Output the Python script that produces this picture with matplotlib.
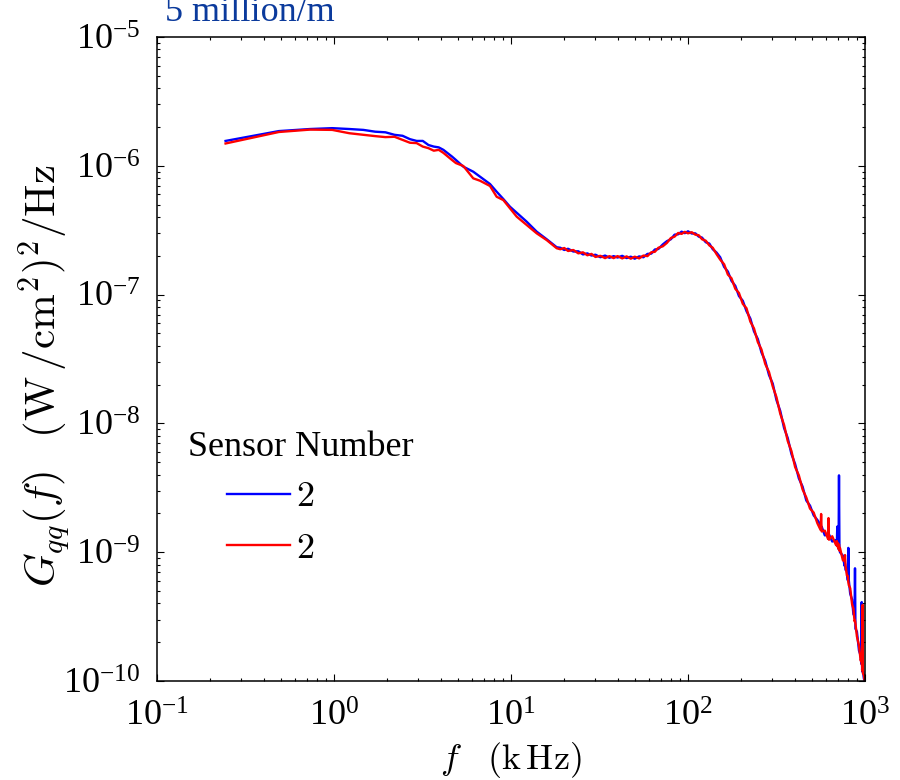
import matplotlib
matplotlib.use("Agg")
import matplotlib.pyplot as plt
from matplotlib.ticker import LogLocator, NullFormatter

plt.rcParams.update({
    "font.family": ["Liberation Serif", "DejaVu Serif"],
    "mathtext.fontset": "custom",
    "mathtext.rm": "Liberation Serif",
    "mathtext.it": "Liberation Serif:italic",
    "mathtext.bf": "Liberation Serif:bold",
    "axes.unicode_minus": True,
})

# Frequency bins (kHz) shared by both sensors
freq_khz = [
    0.244, 0.488, 0.732, 0.977, 1.221, 1.465, 1.709, 1.953, 2.197, 2.441,
    2.686, 2.930, 3.174, 3.418, 3.662, 3.906, 4.150, 4.395, 4.639, 4.883,
    5.38, 6.12, 6.68, 7.61, 8.30, 9.05, 9.87, 10.77, 12.27, 13.97, 15.91, 18.13,
    19, 20, 21, 22.5, 24, 25.5, 27, 28.5, 30, 32, 34, 36, 38, 40, 42.5, 45, 47.5,
    50, 53, 56, 59, 62, 65, 68, 72,
    76, 80, 84, 88, 92, 96, 100, 105, 110, 115, 120, 126, 132, 138, 145,
    152, 160, 168, 176, 185, 194, 204, 214, 225, 236, 248, 260, 273, 287, 301,
    316, 332, 349, 366, 384, 403, 423, 444, 466, 489, 513, 538,
    561, 565, 569, 593, 618, 622, 626, 653, 685, 693, 697, 701, 709,
    713, 717, 722, 750, 766, 771, 776, 790, 800, 805, 810, 825, 845, 860, 873,
    878, 883, 900, 925, 945, 953, 958, 963, 966, 970, 974, 985, 1000,
]

# Heat-flux PSD, sensor 2 (blue trace), (W/cm^2)^2/Hz
gqq_blue = [
    1.56e-6, 1.86e-6, 1.93e-6, 1.96e-6, 1.93e-6, 1.90e-6, 1.84e-6, 1.82e-6, 1.74e-6, 1.71e-6,
    1.61e-6, 1.56e-6, 1.56e-6, 1.45e-6, 1.41e-6, 1.39e-6, 1.33e-6, 1.25e-6, 1.18e-6, 1.11e-6,
    9.84e-7, 9.00e-7, 8.23e-7, 7.22e-7, 6.29e-7, 5.52e-7, 4.81e-7, 4.32e-7, 3.68e-7, 3.08e-7, 2.69e-7, 2.33e-7,
    2.31e-7, 2.22e-7, 2.27e-7, 2.16e-7, 2.17e-7, 2.05e-7, 2.09e-7, 2.01e-7, 2.04e-7, 1.95e-7,
    2.01e-7, 1.93e-7, 1.99e-7, 1.94e-7, 2.00e-7, 1.92e-7, 1.97e-7,
    1.90e-7, 1.98e-7, 1.95e-7, 2.07e-7, 2.08e-7, 2.24e-7, 2.26e-7, 2.45e-7,
    2.60e-7, 2.69e-7, 2.92e-7, 2.94e-7, 3.08e-7, 3.00e-7, 3.10e-7, 2.98e-7, 2.99e-7, 2.82e-7,
    2.77e-7, 2.55e-7, 2.49e-7, 2.25e-7, 2.12e-7,
    1.95e-7, 1.64e-7, 1.51e-7, 1.28e-7, 1.17e-7, 9.75e-8, 8.95e-8, 7.44e-8, 6.52e-8, 5.18e-8,
    4.52e-8, 3.56e-8, 3.06e-8, 2.37e-8, 2.04e-8,
    1.52e-8, 1.25e-8, 9.20e-9, 7.70e-9, 5.79e-9, 4.83e-9, 3.74e-9, 3.23e-9, 2.52e-9, 2.30e-9,
    1.93e-9, 1.78e-9,
    1.63e-9, 1.50e-9, 1.58e-9, 1.35e-9, 1.39e-9, 1.27e-9, 1.37e-9, 1.21e-9, 1.24e-9, 1.12e-9,
    1.58e-9, 1.19e-9, 1.06e-9,
    3.95e-9, 1.12e-9, 1.00e-9, 9.40e-10, 7.85e-10, 8.15e-10, 7.30e-10, 7.20e-10, 6.05e-10,
    1.08e-9, 6.05e-10, 4.75e-10, 4.30e-10, 3.30e-10, 3.20e-10,
    7.50e-10, 2.55e-10, 2.42e-10, 1.72e-10, 1.58e-10, 1.36e-10, 4.10e-10, 1.22e-10, 1.30e-10,
    1.17e-10, 1.20e-10, 1.05e-10, 9.70e-11,
]

# Heat-flux PSD, sensor 2 (red trace), (W/cm^2)^2/Hz
gqq_red = [
    1.49e-6, 1.83e-6, 1.91e-6, 1.90e-6, 1.79e-6, 1.74e-6, 1.70e-6, 1.67e-6, 1.68e-6, 1.59e-6,
    1.51e-6, 1.50e-6, 1.41e-6, 1.37e-6, 1.31e-6, 1.33e-6, 1.26e-6, 1.18e-6, 1.11e-6, 1.05e-6,
    9.96e-7, 7.99e-7, 7.66e-7, 6.97e-7, 5.75e-7, 5.42e-7, 4.68e-7, 4.03e-7, 3.47e-7, 2.99e-7, 2.65e-7, 2.29e-7,
    2.25e-7, 2.30e-7, 2.18e-7, 2.22e-7, 2.09e-7, 2.13e-7, 2.02e-7, 2.07e-7, 1.96e-7, 2.00e-7,
    1.92e-7, 1.99e-7, 1.92e-7, 1.99e-7, 1.91e-7, 1.98e-7, 1.90e-7,
    1.97e-7, 1.91e-7, 2.01e-7, 1.99e-7, 2.13e-7, 2.15e-7, 2.31e-7, 2.37e-7,
    2.52e-7, 2.75e-7, 2.82e-7, 3.01e-7, 2.96e-7, 3.07e-7, 2.99e-7, 3.05e-7, 2.92e-7, 2.89e-7,
    2.69e-7, 2.62e-7, 2.41e-7, 2.31e-7, 2.06e-7,
    1.87e-7, 1.72e-7, 1.43e-7, 1.34e-7, 1.11e-7, 1.03e-7, 8.47e-8, 7.84e-8, 6.17e-8, 5.46e-8,
    4.28e-8, 3.75e-8, 2.90e-8, 2.50e-8, 1.94e-8,
    1.60e-8, 1.19e-8, 9.72e-9, 7.30e-9, 6.10e-9, 4.58e-9, 3.95e-9, 3.07e-9, 2.66e-9, 2.18e-9,
    2.03e-9, 1.68e-9,
    1.49e-9, 1.98e-9, 1.45e-9, 1.47e-9, 1.27e-9, 1.84e-9, 1.25e-9, 1.33e-9, 1.14e-9, 1.22e-9,
    1.11e-9, 1.18e-9, 1.06e-9,
    1.15e-9, 1.03e-9, 1.08e-9, 8.65e-10, 8.55e-10, 9.50e-10, 7.90e-10, 6.60e-10, 6.55e-10,
    5.85e-10, 5.55e-10, 5.25e-10, 3.95e-10, 3.65e-10, 2.90e-10,
    2.95e-10, 2.80e-10, 2.22e-10, 1.88e-10, 1.44e-10, 1.48e-10, 1.35e-10, 1.33e-10, 1.20e-10,
    3.90e-10, 1.14e-10, 1.12e-10, 9.60e-11,
]

series_labels = ["2", "2"]
series_colors = ["#0000ff", "#ff0000"]

FS = 26
W, H = 900, 780
fig = plt.figure(figsize=(W / 100, H / 100), dpi=100)
L, R, T, B = 157, 865, 37, 681
ax = fig.add_axes([L / W, 1 - B / H, (R - L) / W, (B - T) / H])

lines = []
for vals, col, lab in zip([gqq_blue, gqq_red], series_colors, series_labels):
    ln, = ax.plot(freq_khz, vals, color=col, lw=1.7, label="$" + lab + "$")
    lines.append(ln)

ax.set_xscale("log")
ax.set_yscale("log")
ax.set_xlim(0.1, 1000)
ax.set_ylim(1e-10, 1e-5)

for axis in (ax.xaxis, ax.yaxis):
    axis.set_major_locator(LogLocator(base=10, numticks=20))
    axis.set_minor_locator(LogLocator(base=10, subs=range(2, 10), numticks=20))
    axis.set_minor_formatter(NullFormatter())

ax.tick_params(which="both", direction="in", top=True, right=True, width=0.8)
ax.tick_params(which="major", length=5)
ax.tick_params(which="minor", length=2.5)
ax.tick_params(axis="y", which="major", labelsize=FS, pad=12)
ax.tick_params(axis="x", which="major", labelsize=FS, pad=14)
for s in ax.spines.values():
    s.set_linewidth(1.1)

ax.set_xlabel(r"$f\ \ \;(\mathrm{k\,Hz})$", fontsize=FS, math_fontfamily="cm")
ax.set_ylabel(r"$G_{qq}(f)\ \ \,(\mathrm{W\,/cm^2})^2/\mathrm{Hz}$",
              fontsize=31, math_fontfamily="cm")
ax.xaxis.set_label_coords(0.5, -0.092)
ax.yaxis.set_label_coords(-0.118, 0.474)

fig.text(165 / W, 1 - 20.7 / H, "5 million/m", fontsize=FS, color="#0b3a9c",
         ha="left", va="baseline")

fig.text(188 / W, 1 - 456 / H, "Sensor Number", fontsize=FS,
         ha="left", va="baseline")
leg = ax.legend(handles=lines, loc="upper left",
                bbox_to_anchor=(227 / W, 1 - 481 / H),
                bbox_transform=fig.transFigure, frameon=False,
                borderpad=0, borderaxespad=0, handlelength=1.75,
                handletextpad=0.15, labelspacing=0.5,
                prop={"size": FS, "math_fontfamily": "cm"})

fig.savefig("out.png", dpi=100)
